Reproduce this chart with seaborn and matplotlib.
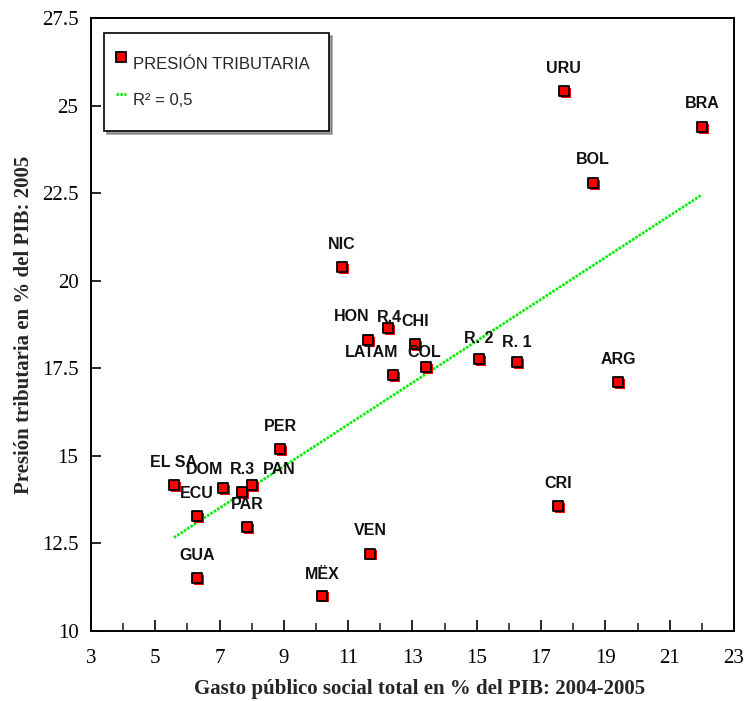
import numpy as np
import pandas as pd
import matplotlib
matplotlib.use("Agg")
import matplotlib.pyplot as plt
import matplotlib.patheffects as pe
from matplotlib.lines import Line2D
import seaborn as sns

# values
paises = ["URU", "BRA", "BOL", "NIC", "HON", "R.4", "CHI", "LATAM", "COL",
          "R. 2", "R. 1", "ARG", "PER", "EL SA", "DOM", "R.3", "PAN", "ECU",
          "PAR", "CRI", "VEN", "GUA", "MËX"]
gasto_social = [17.71, 22.0, 18.61, 10.81, 11.62, 12.24, 13.08, 12.39, 13.42,
                15.07, 16.25, 19.39, 8.88, 5.58, 7.11, 7.70, 8.01, 6.30,
                7.85, 17.53, 11.68, 6.30, 10.19]
presion_trib = [25.41, 24.39, 22.79, 20.39, 18.31, 18.64, 18.19, 17.30, 17.53,
                17.76, 17.67, 17.10, 15.19, 14.16, 14.07, 13.96, 14.16, 13.27,
                12.96, 13.56, 12.21, 11.50, 11.01]

x_ticks = list(range(3, 24, 2))
y_ticks = [10, 12.5, 15, 17.5, 20, 22.5, 25, 27.5]
y_tick_labels = ["10", "12.5", "15", "17.5", "20", "22.5", "25", "27.5"]

# label offsets (pixels) where the label is not straight above the point
label_offsets = {"HON": (-16, 23), "R.4": (1, 11), "LATAM": (-21, 23),
                 "COL": (-2, 15), "R. 2": (0, 21), "R. 1": (0, 20),
                 "DOM": (-19, 19), "PAN": (27, 16), "MËX": (0, 21)}

df = pd.DataFrame({"pais": paises, "gasto": gasto_social, "presion": presion_trib})

sns.set_style("white")
plt.rcParams["font.family"] = ["Liberation Serif", "DejaVu Serif"]

fig = plt.figure(figsize=(7.47, 7.01), dpi=100)
ax = fig.add_axes([0.1218, 0.0999, 0.8608, 0.8744])

# trend line
green = "#00ee00"
sns.regplot(data=df, x="gasto", y="presion", scatter=False, ci=None, ax=ax,
            line_kws=dict(color=green, linestyle=(0, (1, 0.5)), linewidth=1.9))

sns.scatterplot(data=df, x="gasto", y="presion", ax=ax, marker="s", s=52,
                color="#ff0000", edgecolor="black", linewidth=1.3, zorder=5,
                path_effects=[pe.SimplePatchShadow(offset=(1.2, -1.2), shadow_rgbFace="#ff0000", alpha=1.0),
                              pe.Normal()])

for _, row in df.iterrows():
    off = label_offsets.get(row["pais"], (0, 23))
    ax.annotate(row["pais"], (row["gasto"], row["presion"]), xytext=off,
                textcoords="offset pixels", ha="center", va="center",
                fontsize=11.5, fontweight="bold", family="Liberation Sans",
                color="#111111", zorder=6)

ax.set_xlim(3, 23)
ax.set_ylim(10, 27.5)
ax.set_xticks(x_ticks)
ax.set_xticks(range(4, 23, 2), minor=True)
ax.set_yticks(y_ticks)
ax.set_yticklabels(y_tick_labels)
ax.tick_params(axis="x", which="major", direction="in", length=8, width=1.2,
               pad=13, labelsize=15, colors="black")
ax.tick_params(axis="x", which="minor", direction="in", length=5.5, width=1.2)
ax.tick_params(axis="y", direction="in", length=7, width=1.2, pad=9,
               labelsize=15, colors="black")
ax.tick_params(bottom=True, left=True, which="both")

for sp in ax.spines.values():
    sp.set_color("black")
    sp.set_linewidth(1.4)

ax.set_xlabel("Gasto público social total en % del PIB: 2004-2005",
              fontsize=15, fontweight="bold")
ax.set_ylabel("Presión tributaria en % del PIB: 2005",
              fontsize=15, fontweight="bold", labelpad=6)
ax.xaxis.set_label_coords(0.511, -0.079)

handles = [
    Line2D([], [], marker="s", linestyle="none", markersize=7.5,
           markerfacecolor="#ff0000", markeredgecolor="black", markeredgewidth=1.3),
    Line2D([], [], color=green, linestyle=(0, (1, 0.5)), linewidth=1.9),
]
leg = ax.legend(handles, ["PRESIÓN TRIBUTARIA", "R² = 0,5"],
                loc="upper left", bbox_to_anchor=(0.0202, 0.9755, 0.35, 0.0),
                mode="expand", borderaxespad=0, borderpad=0.75,
                handlelength=0.6, handleheight=3.0, handletextpad=0.4,
                labelspacing=0.0, fancybox=False, shadow=True,
                prop={"family": "Liberation Sans", "size": 12})
leg.get_frame().set_edgecolor("black")
leg.get_frame().set_linewidth(1.2)

fig.savefig("out.png", dpi=100)
